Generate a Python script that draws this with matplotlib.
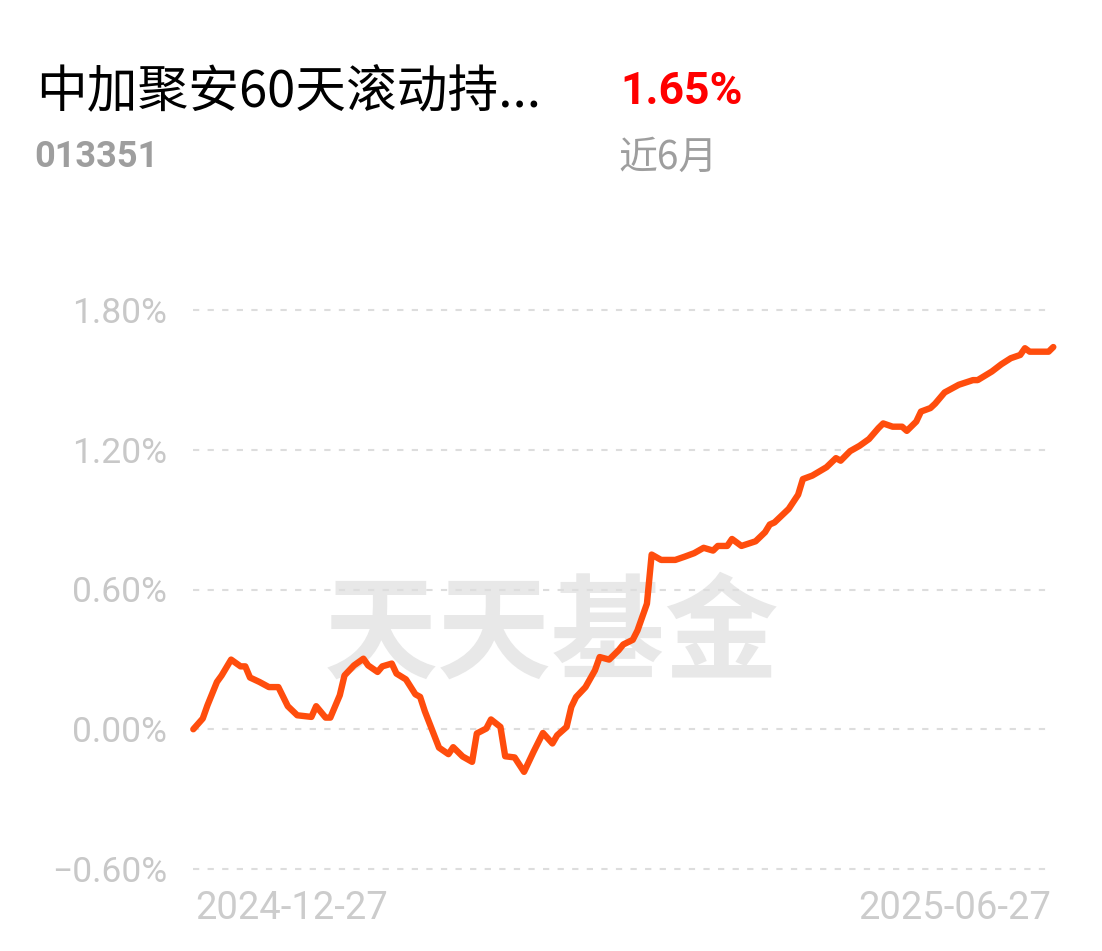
import numpy as np
import matplotlib
matplotlib.use("Agg")
import matplotlib.pyplot as plt

# 近6月累计收益率（%），横轴为自 2024-12-27 起的天数
days = [0, 2, 3, 5, 6, 8, 10, 11, 12, 14, 16, 18, 20, 22, 25, 26, 28, 29, 31, 32,
        34, 36, 37, 39, 40, 42, 43, 45, 47, 48, 49, 52, 54, 55, 57, 59, 60, 62, 63, 65,
        66, 68, 70, 72, 74, 76, 77, 79, 80, 81, 83, 85, 86, 88, 90, 91, 93, 94, 96, 97,
        99, 102, 104, 106, 108, 110, 111, 113, 114, 116, 119, 121, 122, 123, 126, 128, 129, 131, 134, 136,
        137, 139, 141, 143, 145, 146, 148, 150, 151, 153, 154, 156, 157, 159, 162, 165, 166, 169, 171, 173,
        175, 176, 177, 181, 182]
returns = [0.000, 0.046, 0.103, 0.203, 0.231, 0.299, 0.270, 0.270, 0.222, 0.203,
           0.181, 0.181, 0.099, 0.060, 0.053, 0.099, 0.050, 0.050, 0.146, 0.231,
           0.274, 0.303, 0.274, 0.246, 0.270, 0.282, 0.239, 0.214, 0.150, 0.139,
           0.077, -0.079, -0.107, -0.077, -0.117, -0.140, -0.018, 0.003, 0.042, 0.010,
           -0.116, -0.121, -0.183, -0.097, -0.016, -0.061, -0.026, 0.010, 0.096, 0.138,
           0.181, 0.253, 0.310, 0.299, 0.339, 0.364, 0.384, 0.424, 0.539, 0.750,
           0.727, 0.727, 0.741, 0.756, 0.779, 0.767, 0.787, 0.787, 0.817, 0.787,
           0.807, 0.846, 0.879, 0.888, 0.946, 1.007, 1.074, 1.089, 1.125, 1.164,
           1.153, 1.194, 1.217, 1.246, 1.293, 1.313, 1.299, 1.299, 1.281, 1.321,
           1.364, 1.379, 1.398, 1.446, 1.479, 1.499, 1.499, 1.536, 1.567, 1.593,
           1.607, 1.636, 1.621, 1.621, 1.641]

y_ticks = [-0.6, 0.0, 0.6, 1.2, 1.8]
x_labels = ["2024-12-27", "2025-06-27"]

fund_name = "中加聚安60天滚动持..."
fund_code = "013351"
period_return = "1.65%"
period_label = "近6月"

cjk = ["Noto Sans CJK SC", "DejaVu Sans"]
num_font = ["Roboto", "DejaVu Sans"]

fig = plt.figure(figsize=(11.02, 9.51), dpi=100)
fig.patch.set_facecolor("white")

# 标题区域
fig.text(36 / 1102, 1 - 93 / 951, fund_name, family=cjk, fontsize=36.5,
         color="black", va="center", ha="left")
fig.text(34 / 1102, 1 - 157 / 951, fund_code, family=num_font, fontsize=26,
         fontweight="bold", color="#9e9e9e", va="center", ha="left")
fig.text(620 / 1102, 1 - 92 / 951, period_return, family=num_font, fontsize=32,
         fontweight="bold", color="#ff0000", va="center", ha="left")
fig.text(618 / 1102, 1 - 158 / 951, period_label, family=cjk, fontsize=28,
         color="#9e9e9e", va="center", ha="left")

ax = fig.add_axes([193.3 / 1102, 1 - 869 / 951, 860 / 1102, 559 / 951])
ax.set_xlim(0, 182)
ax.set_ylim(-0.6, 1.8)
for s in ax.spines.values():
    s.set_visible(False)

# 水印
ax.text(0.416 * 182, 0.40, "天天基金", family=cjk, fontsize=82,
        fontweight="bold", color="#e8e8e8", ha="center", va="center", zorder=0)

for v in y_ticks:
    ax.axhline(v, color="#dddddd", lw=1.5, ls=(0, (3, 4)), clip_on=False, zorder=1)

ax.set_yticks(y_ticks)
ax.set_yticklabels([f"{v:.2f}%".replace("-", "\u2212") for v in y_ticks])
ax.tick_params(axis="y", length=0, pad=19, labelsize=25.5, labelcolor="#c8c8c8")
for lab in ax.get_yticklabels():
    lab.set_family(num_font)

ax.plot(days, returns, color="#ff4d0d", lw=4.6, solid_joinstyle="round",
        solid_capstyle="round", zorder=3, clip_on=False)

ax.set_xticks([])
ax.text(0.5, -0.69, x_labels[0], color="#cccccc", fontsize=27.5,
        family=num_font, ha="left", va="top")
ax.text(181.5, -0.69, x_labels[1], color="#cccccc", fontsize=27.5,
        family=num_font, ha="right", va="top")

fig.savefig("out.png", dpi=100, facecolor="white")
